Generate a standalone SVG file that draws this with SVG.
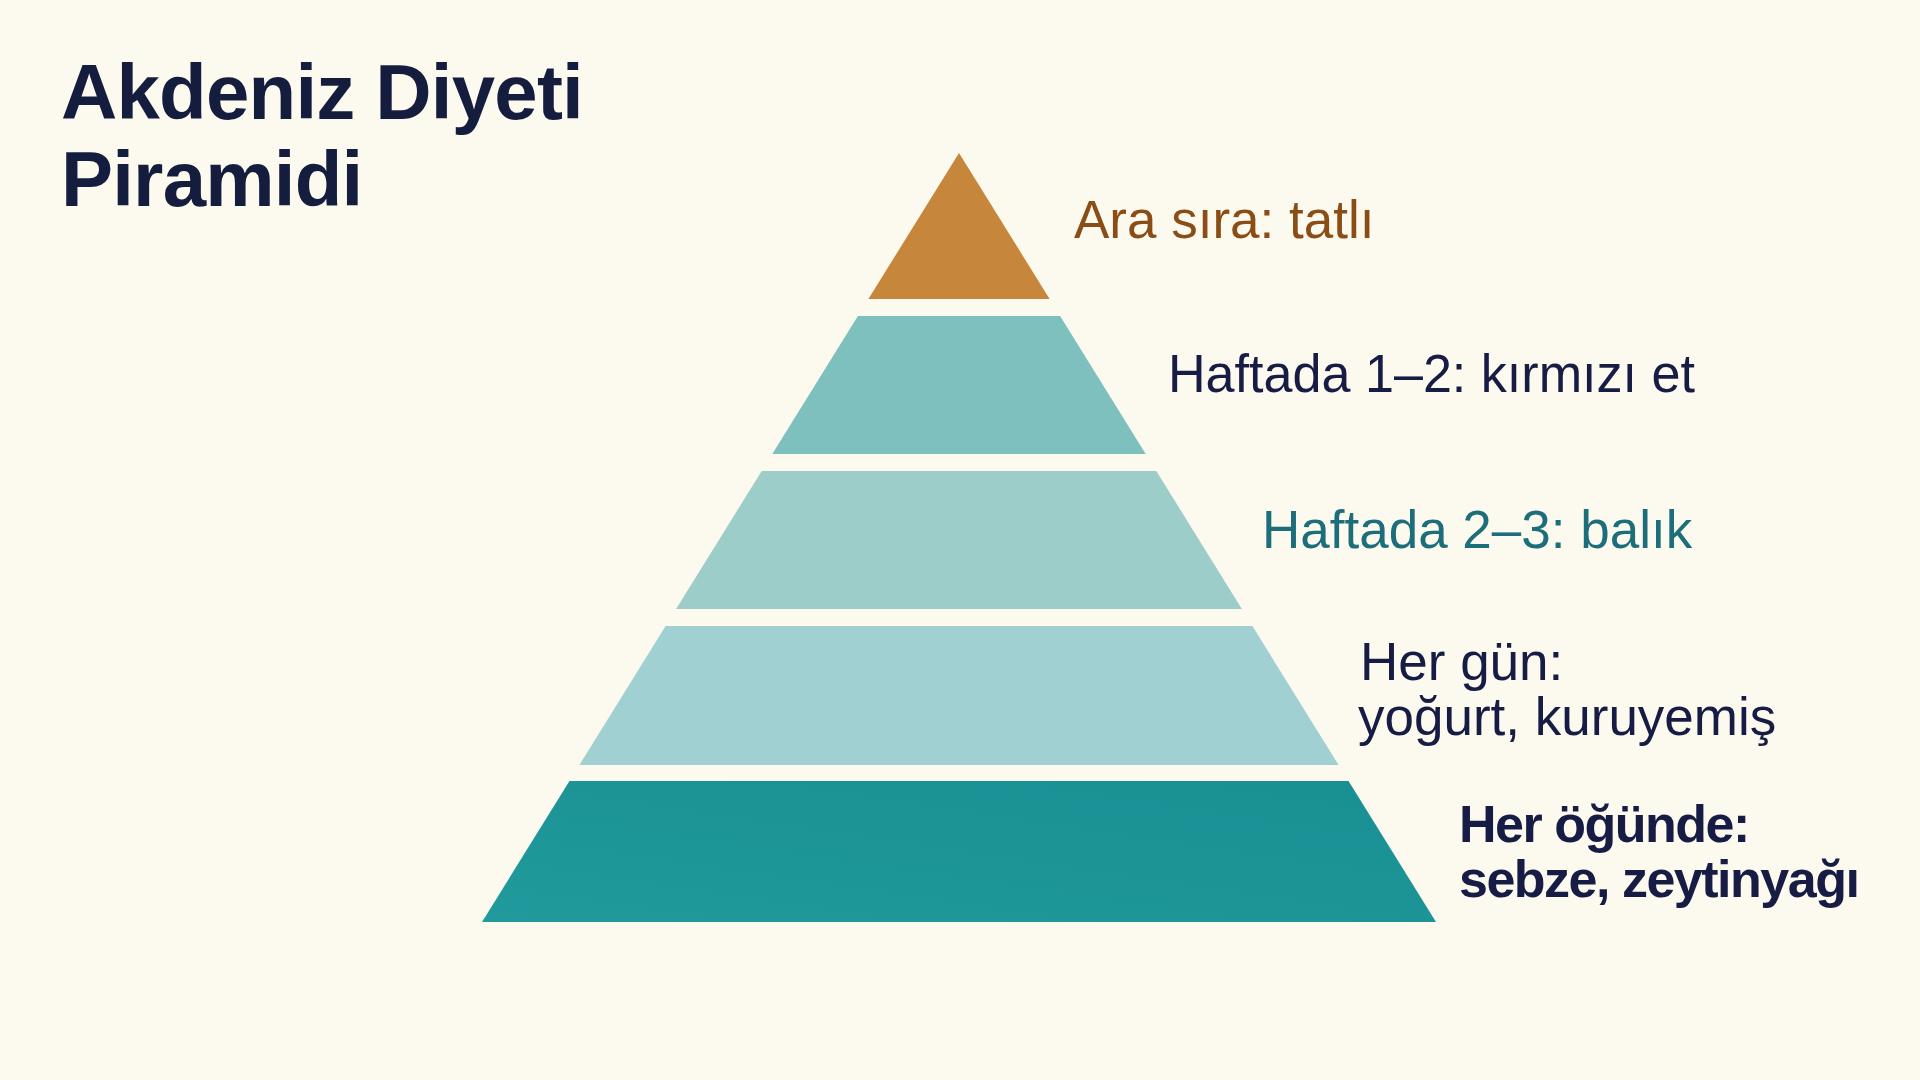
<svg xmlns="http://www.w3.org/2000/svg" width="1920" height="1080" viewBox="0 0 1920 1080">
  <defs>
    <style>
      .lbl { font-family: "Liberation Sans", Arial, sans-serif; font-size: 53px; }
      .navy { fill: #171C44; }
      .title { font-family: "Liberation Sans", Arial, sans-serif; font-size: 78px; font-weight: 700; fill: #141D3D; letter-spacing: -0.8px; }
      .bold { font-weight: 700; font-size: 52px; letter-spacing: -1.5px; }
    </style>
    <linearGradient id="g5" x1="0" y1="1" x2="1" y2="0">
      <stop offset="0" stop-color="#209A9C"/>
      <stop offset="1" stop-color="#198F92"/>
    </linearGradient>
  </defs>
  <rect width="1920" height="1080" fill="#FCF9EF"/>

  <g id="title">
    <text class="title" x="61" y="119">Akdeniz Diyeti</text>
    <text class="title" x="61" y="206">Piramidi</text>
  </g>

  <g id="tier-1">
    <polygon points="959,153 1049.6,299 868.4,299" fill="#C6873C"/>
    <text class="lbl" x="1074" y="238" fill="#8B4D16">Ara sıra: tatlı</text>
  </g>

  <g id="tier-2">
    <polygon points="857.9,316 1060.1,316 1145.7,454 772.3,454" fill="#7EC0BD"/>
    <text class="lbl navy" x="1168" y="392" textLength="527" lengthAdjust="spacingAndGlyphs">Haftada 1–2: kırmızı et</text>
  </g>

  <g id="tier-3">
    <polygon points="761.7,471 1156.3,471 1241.9,609 676.1,609" fill="#9DCDC9"/>
    <text class="lbl" x="1262" y="548" fill="#1C6E7A">Haftada 2–3: balık</text>
  </g>

  <g id="tier-4">
    <polygon points="665.6,626 1252.4,626 1338.6,765 579.4,765" fill="#A1D0D2"/>
    <text class="lbl navy" x="1360" y="680"><tspan x="1360" y="680">Her gün:</tspan><tspan x="1358" y="735">yoğurt, kuruyemiş</tspan></text>
  </g>

  <g id="tier-5">
    <polygon points="569.5,781 1348.5,781 1436,922 482,922" fill="url(#g5)"/>
    <text class="lbl navy bold" x="1459" y="842"><tspan x="1459" y="842">Her öğünde:</tspan><tspan x="1459" y="897">sebze, zeytinyağı</tspan></text>
  </g>

  <g id="connectors"/>
</svg>
